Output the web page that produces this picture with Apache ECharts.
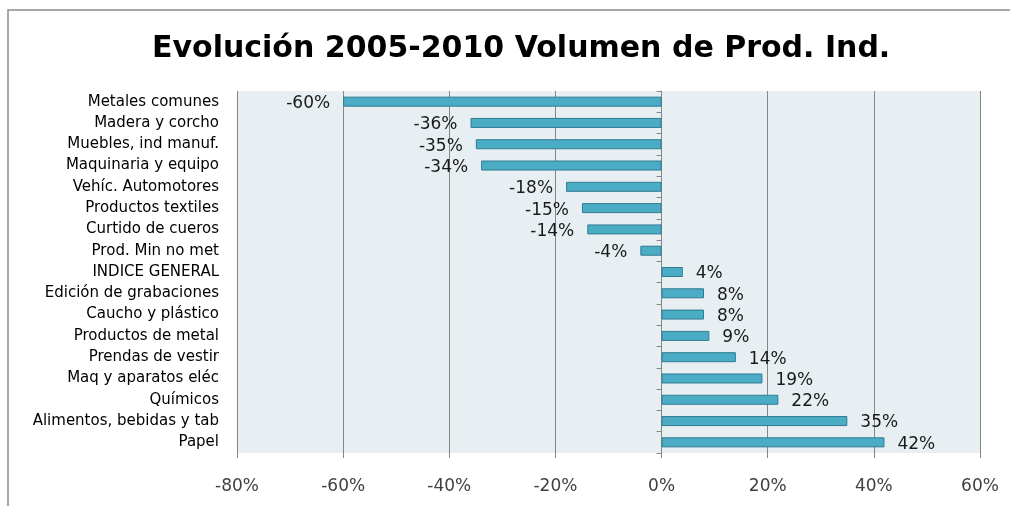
<!DOCTYPE html>
<html>
<head>
<meta charset="utf-8">
<script src="https://cdn.jsdelivr.net/npm/echarts@6/dist/echarts.min.js"></script>
<style>
  html, body { margin: 0; padding: 0; background: #fff; }
  #chart { width: 1010px; height: 506px; }
</style>
</head>
<body>
<div id="chart"></div>
<script>
var categories = [
  'Metales comunes', 'Madera y corcho', 'Muebles, ind manuf.', 'Maquinaria y equipo',
  'Vehíc. Automotores', 'Productos textiles', 'Curtido de cueros', 'Prod. Min no met',
  'INDICE GENERAL', 'Edición de grabaciones', 'Caucho y plástico', 'Productos de metal',
  'Prendas de vestir', 'Maq y aparatos eléc', 'Químicos', 'Alimentos, bebidas y tab', 'Papel'
];
var values = [-60, -36, -35, -34, -18, -15, -14, -4, 4, 8, 8, 9, 14, 19, 22, 35, 42];
var xTicks = { min: -80, max: 60, step: 20 };

var chart = echarts.init(document.getElementById('chart'));

var barData = values.map(function (v) {
  return {
    value: v,
    label: { position: v < 0 ? 'left' : 'right' }
  };
});

chart.setOption({
  animation: false,
  title: {
    text: 'Evolución 2005-2010 Volumen de Prod. Ind.',
    left: 147,
    top: 29,
    textStyle: { fontFamily: 'DejaVu Sans', fontWeight: 'bold', fontSize: 30, color: '#000' }
  },
  graphic: [{
    type: 'polyline',
    shape: { points: [[8, 506], [8, 10], [1010, 10]] },
    style: { stroke: '#8c8c8c', lineWidth: 1.5, fill: null }
  }],
  grid: {
    left: 237, right: 30, top: 91, bottom: 53,
    show: true, backgroundColor: '#e8eff3', borderWidth: 0
  },
  xAxis: {
    type: 'value',
    min: xTicks.min, max: xTicks.max, interval: xTicks.step,
    axisLine: { show: false },
    axisTick: { show: true, length: 5, lineStyle: { color: '#868686' } },
    splitLine: { show: true, lineStyle: { color: '#868686', width: 1 } },
    axisLabel: {
      formatter: '{value}%', margin: 25,
      fontFamily: 'DejaVu Sans', fontSize: 17, color: '#404040'
    }
  },
  yAxis: [{
    type: 'category',
    data: categories,
    inverse: true,
    axisLine: { show: false, onZero: false },
    axisTick: { show: false },
    axisLabel: { margin: 18, fontFamily: 'DejaVu Sans', fontSize: 15, color: '#000' }
  }, {
    // second copy of the category axis, drawn on the 0% line with its ticks
    type: 'category',
    data: categories,
    inverse: true,
    position: 'left',
    axisLine: { show: true, onZero: true, onZeroAxisIndex: 0, lineStyle: { color: '#868686' } },
    axisTick: { show: true, length: 5, lineStyle: { color: '#868686' } },
    axisLabel: { show: false }
  }],
  series: [{
    type: 'bar',
    data: barData,
    barWidth: 10,
    itemStyle: { color: '#4bacc6', borderColor: '#2f7b90', borderWidth: 1 },
    label: {
      show: true,
      distance: 13,
      offset: [0, 2],
      formatter: '{c}%',
      fontFamily: 'DejaVu Sans', fontSize: 17, color: '#1a1a1a'
    }
  }]
});
</script>
</body>
</html>
